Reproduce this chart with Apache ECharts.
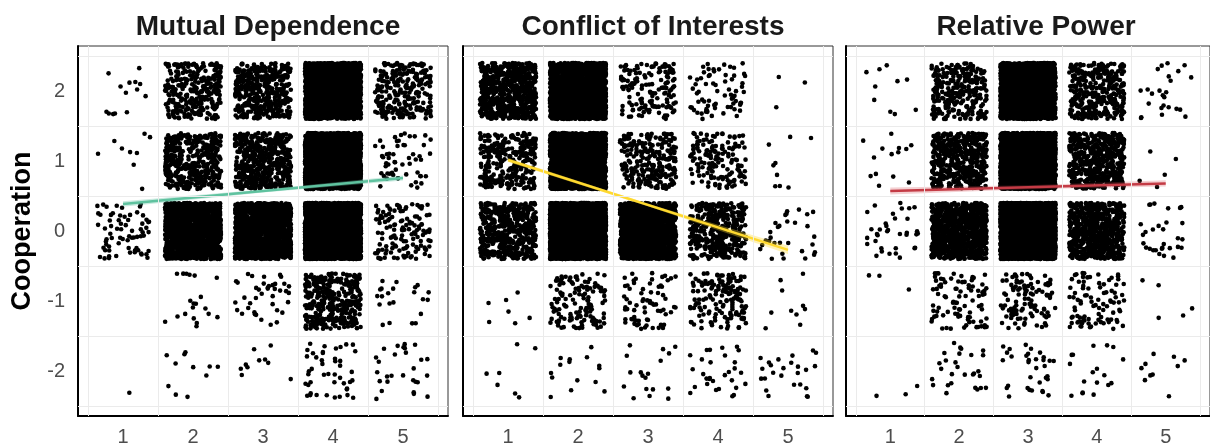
<!DOCTYPE html>
<html>
<head>
<meta charset="utf-8">
<script src="https://cdn.jsdelivr.net/npm/echarts@6/dist/echarts.min.js"></script>
<style>
  html, body { margin: 0; background: #fff; }
  #chart { width: 1210px; height: 448px; }
</style>
</head>
<body>
<div id="chart"></div>
<script>
const panelTitles = ['Mutual Dependence', 'Conflict of Interests', 'Relative Power'];
const xLevels = [1, 2, 3, 4, 5];
const yLevels = [2, 1, 0, -1, -2];

// number of observations per cell; rows follow yLevels, columns follow xLevels
const mutualCounts = [
  [14, 300, 400, 2000, 250],
  [9, 400, 500, 3000, 55],
  [70, 1500, 1500, 4000, 130],
  [0, 20, 40, 350, 22],
  [1, 11, 10, 45, 28]
];
const conflictCounts = [
  [700, 2000, 150, 70, 3],
  [300, 3000, 250, 150, 9],
  [500, 4000, 1500, 400, 30],
  [7, 130, 70, 150, 10],
  [7, 15, 18, 30, 25]
];
const powerCounts = [
  [10, 280, 2500, 350, 25],
  [14, 450, 3500, 500, 5],
  [35, 900, 5000, 700, 30],
  [3, 90, 110, 90, 5],
  [3, 28, 33, 18, 10]
];

// fitted line ends [x, y] and half width of the band at each end
const mutualFit = [[1, 0.386], [5, 0.757]];
const conflictFit = [[1, 1.014], [5, -0.27]];
const powerFit = [[1, 0.57], [5, 0.68]];
const mutualBand = [0.04, 0.035];
const conflictBand = [0.03, 0.06];
const powerBand = [0.05, 0.045];

const fitColors = ['#5fc29f', '#ffd92f', '#c43b45'];
const bandColors = ['rgba(102,194,165,0.35)', 'rgba(255,217,47,0.35)', 'rgba(210,70,80,0.25)'];

const gridLinesX = [0.5, 1.5, 2.5, 3.5, 4.5, 5.5];
const gridLinesY = [2.5, 1.5, 0.5, -0.5, -1.5, -2.5];

const allCounts = [mutualCounts, conflictCounts, powerCounts];
const allFits = [mutualFit, conflictFit, powerFit];
const allBands = [mutualBand, conflictBand, powerBand];

// mulberry32 style mix of an integer -> [0,1), only used to spread points inside a cell like geom_jitter
function hash01(k) {
  let t = Math.imul(k, 0x6D2B79F5) | 0;
  t = Math.imul(t ^ (t >>> 15), t | 1);
  t ^= t + Math.imul(t ^ (t >>> 7), t | 61);
  return ((t ^ (t >>> 14)) >>> 0) / 4294967296;
}

function jitterCell(x, y, n, seed) {
  const pts = [];
  for (let i = 0; i < n; i++) {
    const u = hash01(seed + i * 2);
    const v = hash01(seed + i * 2 + 1);
    pts.push([x + (u - 0.5) * 0.8, y + (v - 0.5) * 0.8]);
  }
  return pts;
}

const lefts = [78, 463, 846];
const grids = [], xAxes = [], yAxes = [], series = [], titles = [];
const labelFont = { fontFamily: 'Liberation Sans, Arial, sans-serif', fontSize: 20, color: '#4d4d4d' };

for (let p = 0; p < 3; p++) {
  grids.push({ left: lefts[p], top: 46, width: 370, height: 370, show: true,
    borderColor: '#333', borderWidth: 1, backgroundColor: '#fff' });
  xAxes.push({ type: 'value', gridIndex: p, min: 0.357, max: 5.643,
    axisLine: { show: true, onZero: false, lineStyle: { color: '#000', width: 2 } },
    axisTick: { show: false }, splitLine: { show: false },
    axisLabel: Object.assign({ customValues: xLevels, margin: 11 }, labelFont) });
  yAxes.push({ type: 'value', gridIndex: p, min: -2.643, max: 2.643,
    axisLine: { show: true, onZero: false, lineStyle: { color: '#000', width: 2 } },
    axisTick: { show: false }, splitLine: { show: false },
    axisLabel: Object.assign({ show: p === 0, customValues: yLevels, margin: 13 }, labelFont) });
  titles.push({ text: panelTitles[p], left: lefts[p] + 185, top: 8, textAlign: 'center',
    textStyle: { fontFamily: 'Liberation Sans, Arial, sans-serif', fontSize: 28, fontWeight: 'bold', color: '#1a1a1a' } });

  // background grid lines
  series.push({ type: 'scatter', xAxisIndex: p, yAxisIndex: p, data: [], z: 1,
    markLine: { silent: true, symbol: 'none', animation: false, label: { show: false },
      lineStyle: { color: '#ebebeb', type: 'solid', width: 1 },
      data: gridLinesX.map(v => ({ xAxis: v })).concat(gridLinesY.map(v => ({ yAxis: v }))) } });

  const pts = [];
  allCounts[p].forEach((row, r) => {
    row.forEach((n, c) => {
      pts.push(...jitterCell(xLevels[c], yLevels[r], n, (p * 25 + r * 5 + c) * 20011 + 7));
    });
  });
  series.push({ type: 'scatter', xAxisIndex: p, yAxisIndex: p, data: pts, z: 2,
    symbolSize: 4.6, itemStyle: { color: '#000', opacity: 1 }, progressive: 0, silent: true });

  const fit = allFits[p], band = allBands[p];
  series.push({ type: 'custom', xAxisIndex: p, yAxisIndex: p, data: [[0]], z: 3, silent: true,
    renderItem: function (params, api) {
      const midX = (fit[0][0] + fit[1][0]) / 2, midY = (fit[0][1] + fit[1][1]) / 2;
      const midW = Math.min(band[0], band[1]) * 0.6;
      const poly = [
        [fit[0][0], fit[0][1] + band[0]], [midX, midY + midW], [fit[1][0], fit[1][1] + band[1]],
        [fit[1][0], fit[1][1] - band[1]], [midX, midY - midW], [fit[0][0], fit[0][1] - band[0]]
      ].map(d => api.coord(d));
      return { type: 'polygon', shape: { points: poly }, style: { fill: bandColors[p] } };
    } });
  series.push({ type: 'line', xAxisIndex: p, yAxisIndex: p, data: fit, z: 4, symbol: 'none', silent: true,
    lineStyle: { color: fitColors[p], width: 2.5 } });
}

const chart = echarts.init(document.getElementById('chart'));
chart.setOption({
  animation: false,
  backgroundColor: '#fff',
  title: titles,
  grid: grids,
  xAxis: xAxes,
  yAxis: yAxes,
  graphic: [{ type: 'text', x: 23, y: 231, rotation: Math.PI / 2,
    style: { text: 'Cooperation', fontFamily: 'Liberation Sans, Arial, sans-serif', fontSize: 27,
      fontWeight: 'bold', fill: '#000', textAlign: 'center', textVerticalAlign: 'middle' } }],
  series: series
});
</script>
</body>
</html>
